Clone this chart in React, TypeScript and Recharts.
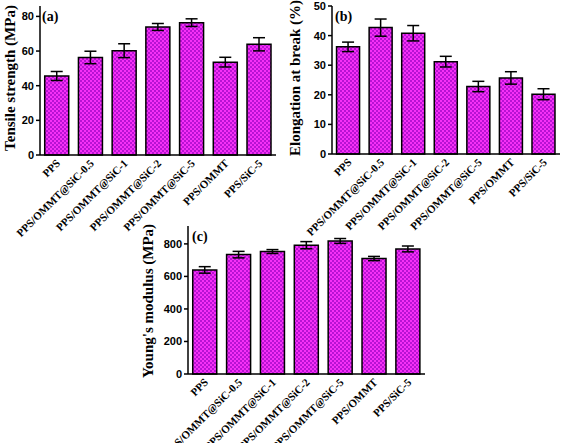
import React from 'react';
import { BarChart, Bar, XAxis, YAxis, ErrorBar } from 'recharts';

const categories = ['PPS', 'PPS/OMMT@SiC-0.5', 'PPS/OMMT@SiC-1', 'PPS/OMMT@SiC-2', 'PPS/OMMT@SiC-5', 'PPS/OMMT', 'PPS/SiC-5'];

const tensile = [45.6, 56.3, 60.2, 73.9, 76.4, 53.6, 63.9];
const tensileErr = [2.6, 3.6, 4.0, 2.0, 2.2, 2.8, 3.8];
const tensileTicks = [0, 20, 40, 60, 80];

const elongation = [36.2, 42.7, 40.8, 31.2, 22.8, 25.7, 20.2];
const elongationErr = [1.6, 2.9, 2.6, 1.8, 1.75, 2.1, 1.85];
const elongationTicks = [0, 10, 20, 30, 40, 50];

const modulus = [640, 734, 753, 792, 818, 710, 769];
const modulusErr = [20, 20, 12, 22, 15, 13, 18];
const modulusTicks = [0, 200, 400, 600, 800];

const SERIF = '"Liberation Serif", "Times New Roman", serif';
const SANS = '"Liberation Sans", Arial, sans-serif';

const makeData = (vals: number[], errs: number[]) =>
  categories.map((name, i) => ({ name, value: vals[i], err: errs[i] }));

const CatTick = (props: any) => {
  const { x, y, payload } = props;
  return (
    <g transform={`translate(${x + 4},${y + 9})`}>
      <text
        x={0}
        y={0}
        textAnchor="end"
        transform="rotate(-45)"
        fontFamily={SERIF}
        fontWeight="bold"
        fontSize={11}
        fill="#000"
      >
        {payload.value}
      </text>
    </g>
  );
};

type PanelProps = {
  id: string;
  data: { name: string; value: number; err: number }[];
  width: number;
  height: number;
  margin: { top: number; right: number; bottom: number; left: number };
  yWidth: number;
  xHeight: number;
  domain: [number, number];
  ticks: number[];
};

const Panel = ({ id, data, width, height, margin, yWidth, xHeight, domain, ticks }: PanelProps) => (
  <BarChart width={width} height={height} data={data} margin={margin} barCategoryGap="14%">
    <defs>
      <pattern id={id} x={0} y={0} width={4} height={4} patternUnits="userSpaceOnUse">
        <rect x={0} y={0} width={4} height={4} fill="#f630f6" />
        <rect x={0} y={0} width={2} height={2} fill="#b812d4" />
        <rect x={2} y={2} width={2} height={2} fill="#b812d4" />
      </pattern>
    </defs>
    <XAxis
      dataKey="name"
      type="category"
      height={xHeight}
      interval={0}
      tick={<CatTick />}
      tickLine={false}
      tickSize={0}
      tickMargin={0}
      axisLine={{ stroke: '#000', strokeWidth: 1.5 }}
    />
    <XAxis
      xAxisId="top"
      dataKey="name"
      orientation="top"
      height={0}
      tick={false}
      tickLine={false}
      axisLine={{ stroke: '#000', strokeWidth: 1.5 }}
    />
    <YAxis
      type="number"
      domain={domain}
      ticks={ticks}
      width={yWidth}
      interval={0}
      tickSize={4}
      tickMargin={2}
      tickLine={{ stroke: '#000', strokeWidth: 1.5 }}
      axisLine={{ stroke: '#000', strokeWidth: 1.5 }}
      tick={{ fontFamily: SANS, fontWeight: 'bold', fontSize: 11, fill: '#000' }}
    />
    <YAxis
      yAxisId="r"
      orientation="right"
      type="number"
      domain={[0, 1]}
      width={0}
      tick={false}
      tickLine={false}
      axisLine={{ stroke: '#000', strokeWidth: 1.5 }}
    />
    <Bar dataKey="value" fill={`url(#${id})`} stroke="#000" strokeWidth={1.5} isAnimationActive={false}>
      <ErrorBar dataKey="err" width={6} stroke="#000" strokeWidth={1.5} />
    </Bar>
  </BarChart>
);

const titleStyle = {
  fontFamily: SERIF,
  fontWeight: 'bold' as const,
  fontSize: 15,
  fill: '#000',
};

export default function App() {
  return (
    <div style={{ position: 'absolute', left: 0, top: 0, width: 567, height: 443, background: '#fff', overflow: 'hidden' }}>
      <div style={{ position: 'absolute', left: 0, top: 0 }}>
        <Panel
          id="patA"
          data={makeData(tensile, tensileErr)}
          width={280}
          height={250}
          margin={{ top: 6, right: 4, bottom: 30, left: 0 }}
          yWidth={40}
          xHeight={65}
          domain={[0, 86]}
          ticks={tensileTicks}
        />
      </div>
      <div style={{ position: 'absolute', left: 230, top: 0 }}>
        <Panel
          id="patB"
          data={makeData(elongation, elongationErr)}
          width={337}
          height={250}
          margin={{ top: 6, right: 7, bottom: 30, left: 50 }}
          yWidth={52}
          xHeight={66}
          domain={[0, 50]}
          ticks={elongationTicks}
        />
      </div>
      <div style={{ position: 'absolute', left: 60, top: 220 }}>
        <Panel
          id="patC"
          data={makeData(modulus, modulusErr)}
          width={420}
          height={260}
          margin={{ top: 6, right: 55, bottom: 37, left: 40 }}
          yWidth={88}
          xHeight={69}
          domain={[0, 910]}
          ticks={modulusTicks}
        />
      </div>
      <svg width={567} height={443} style={{ position: 'absolute', left: 0, top: 0, pointerEvents: 'none' }}>
        <text x={15} y={78} transform="rotate(-90 15 78)" textAnchor="middle" style={titleStyle}>
          Tensile strength (MPa)
        </text>
        <text x={300} y={78} transform="rotate(-90 300 78)" textAnchor="middle" style={titleStyle}>
          Elongation at break (%)
        </text>
        <text x={153} y={301} transform="rotate(-90 153 301)" textAnchor="middle" style={titleStyle}>
          Young's modulus (MPa)
        </text>
        <text x={42} y={21} style={{ ...titleStyle, fontSize: 14 }}>(a)</text>
        <text x={335} y={21} style={{ ...titleStyle, fontSize: 14 }}>(b)</text>
        <text x={192} y={241} style={{ ...titleStyle, fontSize: 14 }}>(c)</text>
      </svg>
    </div>
  );
}
